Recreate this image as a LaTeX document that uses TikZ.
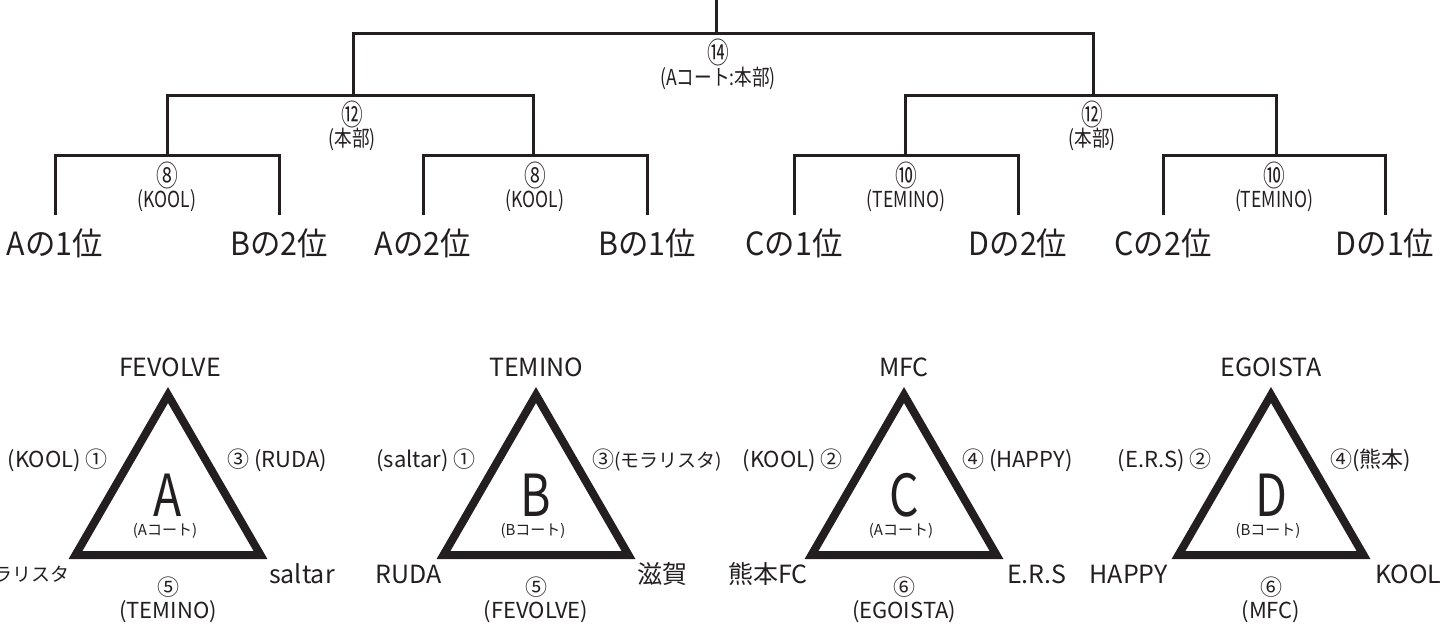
\documentclass[tikz,border=0pt]{standalone}
\usepackage{fontspec}
\setmainfont{Noto Sans CJK JP}
\newfontfamily\condfont[FakeStretch=0.8]{Noto Sans CJK JP}
\newfontfamily\leaffont[FakeStretch=0.95]{Noto Sans CJK JP}
\newfontfamily\circfont[FakeStretch=0.75]{Noto Sans CJK JP}
\definecolor{ink}{HTML}{231F20}
\tikzset{
  br/.style={draw=ink, line width=3pt, line join=miter},
  tri/.style={draw=ink, line width=8pt, line join=miter},
  lab/.style={inner sep=0pt, text=ink, font=\condfont\fontsize{22}{22}\selectfont},
  circ/.style={inner sep=0pt, text=ink, font=\circfont\fontsize{29}{29}\selectfont},
  leaf/.style={inner sep=0pt, text=ink, font=\leaffont\fontsize{32}{32}\selectfont},
  big/.style={inner sep=0pt, text=ink, anchor=base, font=\condfont\fontsize{58}{58}\selectfont},
  court/.style={inner sep=0pt, text=ink, font=\fontsize{15}{15}\selectfont},
  team/.style={inner sep=0pt, text=ink, font=\fontsize{25}{25}\selectfont},
  edge/.style={inner sep=0pt, text=ink, font=\fontsize{22}{22}\selectfont},
}
\begin{document}
\begin{tikzpicture}[x=1pt,y=-1pt]
\useasboundingbox (0,0) rectangle (1447,627);
% ---------- bracket ----------
\coordinate (T) at (716,0);
\coordinate (R) at (716,33);
\coordinate (N1) at (353,95);
\coordinate (N2) at (1093,95);
\coordinate (M1) at (167,155);
\coordinate (M2) at (533,155);
\coordinate (M3) at (905,155);
\coordinate (M4) at (1276,155);
\coordinate (L1) at (55,215);
\coordinate (L2) at (279,215);
\coordinate (L3) at (423,215);
\coordinate (L4) at (647,215);
\coordinate (L5) at (794,215);
\coordinate (L6) at (1018,215);
\coordinate (L7) at (1163,215);
\coordinate (L8) at (1385,215);
\draw[br] (T) -- (R);
\draw[br] (N1) |- (R) -| (N2);
\draw[br] (M1) |- (N1) -| (M2);
\draw[br] (M3) |- (N2) -| (M4);
\draw[br] (L1) |- (M1) -| (L2);
\draw[br] (L3) |- (M2) -| (L4);
\draw[br] (L5) |- (M3) -| (L6);
\draw[br] (L7) |- (M4) -| (L8);
% labels
\node[circ] (n14) at (718,52) {⑭};
\node[lab] (c14) at (718,78) {(Aコート:本部)};
\node[circ] (n12a) at (352,114) {⑫};
\node[lab] (c12a) at (352,139) {(本部)};
\node[circ] (n12b) at (1092,114) {⑫};
\node[lab] (c12b) at (1092,139) {(本部)};
\node[circ] (n8a) at (167,175) {⑧};
\node[lab] (c8a) at (167,201) {(KOOL)};
\node[circ] (n8b) at (535,175) {⑧};
\node[lab] (c8b) at (535,201) {(KOOL)};
\node[circ] (n10a) at (906,175) {⑩};
\node[lab] (c10a) at (906,201) {(TEMINO)};
\node[circ] (n10b) at (1274,175) {⑩};
\node[lab] (c10b) at (1274,201) {(TEMINO)};
\node[leaf] (t1) at (55,243) {Aの1位};
\node[leaf] (t2) at (279,243) {Bの2位};
\node[leaf] (t3) at (423,243) {Aの2位};
\node[leaf] (t4) at (647,243) {Bの1位};
\node[leaf] (t5) at (794,243) {Cの1位};
\node[leaf] (t6) at (1018,243) {Dの2位};
\node[leaf] (t7) at (1163,243) {Cの2位};
\node[leaf] (t8) at (1385,243) {Dの1位};
% ---------- group A ----------
\begin{scope}[shift={(168,0)}]
\coordinate (Atop) at (0,395);
\coordinate (Abl) at (-92.5,555);
\coordinate (Abr) at (92.5,555);
\draw[tri] (Atop) -- (Abl) -- (Abr) -- cycle;
\node[team] (Ana) at (2,367) {FEVOLVE};
\node[edge, anchor=east] (Ale) at (-60,460) {(KOOL) ①};
\node[edge, anchor=west] (Are) at (59,460) {③ (RUDA)};
\node[big] (Ag) at (0,516) {A};
\node[court] (Ac) at (-3,531) {(Aコート)};
\node[team, anchor=east, font=\fontsize{19}{19}\selectfont] (Anl) at (-98,574) {モラリスタ};
\node[team, anchor=west] (Anr) at (101,574) {saltar};
\node[edge] (Anum) at (0,587) {⑤};
\node[edge] (Abt) at (0,612) {(TEMINO)};
\end{scope}
% ---------- group B ----------
\begin{scope}[shift={(536,0)}]
\coordinate (Btop) at (0,395);
\coordinate (Bbl) at (-92.5,555);
\coordinate (Bbr) at (92.5,555);
\draw[tri] (Btop) -- (Bbl) -- (Bbr) -- cycle;
\node[team] (Bna) at (0,367) {TEMINO};
\node[edge, anchor=east] (Ble) at (-60,460) {(saltar) ①};
\node[edge, anchor=west] (Bre) at (56,460) {③\fontsize{19}{19}\selectfont(モラリスタ)};
\node[big] (Bg) at (0,516) {B};
\node[court] (Bc) at (-3,531) {(Bコート)};
\node[team, anchor=east] (Bnl) at (-94,574) {RUDA};
\node[team, anchor=west] (Bnr) at (101,574) {滋賀};
\node[edge] (Bnum) at (0,587) {⑤};
\node[edge] (Bbt) at (0,612) {(FEVOLVE)};
\end{scope}
% ---------- group C ----------
\begin{scope}[shift={(904,0)}]
\coordinate (Ctop) at (0,395);
\coordinate (Cbl) at (-92.5,555);
\coordinate (Cbr) at (92.5,555);
\draw[tri] (Ctop) -- (Cbl) -- (Cbr) -- cycle;
\node[team] (Cna) at (0,367) {MFC};
\node[edge, anchor=east] (Cle) at (-61,460) {(KOOL) ②};
\node[edge, anchor=west] (Cre) at (58,460) {④ (HAPPY)};
\node[big] (Cg) at (0,516) {C};
\node[court] (Cc) at (-3,531) {(Aコート)};
\node[team, anchor=east] (Cnl) at (-96,574) {熊本FC};
\node[team, anchor=west] (Cnr) at (103,574) {E.R.S};
\node[edge] (Cnum) at (0,587) {⑥};
\node[edge] (Cbt) at (0,612) {(EGOISTA)};
\end{scope}
% ---------- group D ----------
\begin{scope}[shift={(1271,0)}]
\coordinate (Dtop) at (0,395);
\coordinate (Dbl) at (-92.5,555);
\coordinate (Dbr) at (92.5,555);
\draw[tri] (Dtop) -- (Dbl) -- (Dbr) -- cycle;
\node[team] (Dna) at (0,367) {EGOISTA};
\node[edge, anchor=east] (Dle) at (-59,460) {(E.R.S) ②};
\node[edge, anchor=west] (Dre) at (59,460) {④(熊本)};
\node[big] (Dg) at (0,516) {D};
\node[court] (Dc) at (-3,531) {(Bコート)};
\node[team, anchor=east] (Dnl) at (-103,574) {HAPPY};
\node[team, anchor=west] (Dnr) at (104,574) {KOOL};
\node[edge] (Dnum) at (0,587) {⑥};
\node[edge] (Dbt) at (0,612) {(MFC)};
\end{scope}
\end{tikzpicture}
\end{document}
